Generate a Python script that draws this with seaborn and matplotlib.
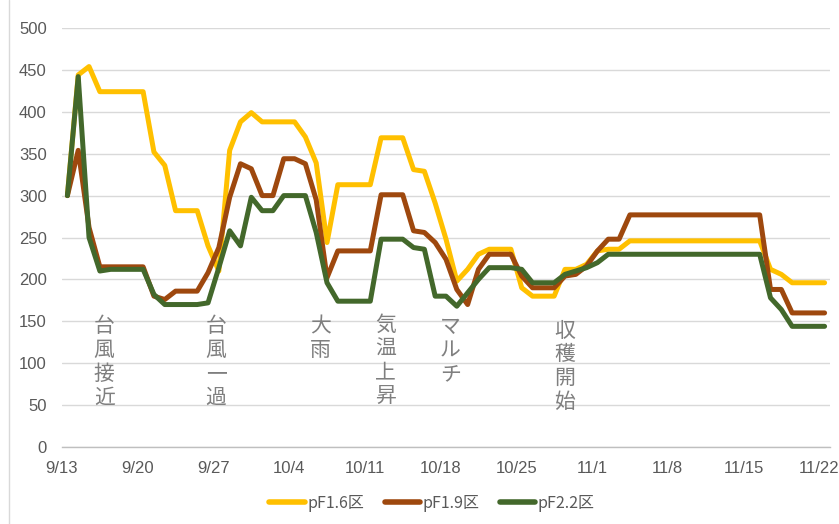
import matplotlib
matplotlib.use("Agg")
import matplotlib.pyplot as plt
import seaborn as sns
import pandas as pd
import numpy as np
from matplotlib.lines import Line2D

# ---- data ----
tick_labels = ["9/13", "9/20", "9/27", "10/4", "10/11", "10/18", "10/25", "11/1", "11/8", "11/15", "11/22"]
series_names = ["pF1.6区", "pF1.9区", "pF2.2区"]
colors = ["#FFC000", "#9E480E", "#43682B"]

pf16 = [300, 444, 454, 424, 424, 424, 424, 424, 352, 336,
        282, 282, 282, 240, 210, 354, 388, 399, 388, 388,
        388, 388, 370, 339, 244, 313, 313, 313, 313, 369,
        369, 369, 331, 329, 291, 248, 198, 212, 230, 236,
        236, 236, 190, 180, 180, 180, 212, 212, 218, 234,
        236, 236, 246, 246, 246, 246, 246, 246, 246, 246,
        246, 246, 246, 246, 246, 212, 206, 196, 196, 196,
        196]
pf19 = [300, 354, 262, 215, 215, 215, 215, 215, 180, 176,
        186, 186, 186, 208, 238, 298, 338, 332, 300, 300,
        344, 344, 338, 295, 202, 234, 234, 234, 234, 301,
        301, 301, 258, 256, 244, 224, 188, 170, 212, 230,
        230, 230, 204, 190, 190, 190, 204, 206, 216, 234,
        248, 248, 277, 277, 277, 277, 277, 277, 277, 277,
        277, 277, 277, 277, 277, 188, 188, 160, 160, 160,
        160]
pf22 = [300, 442, 250, 210, 212, 212, 212, 212, 182, 170,
        170, 170, 170, 172, 214, 258, 240, 298, 282, 282,
        300, 300, 300, 256, 196, 174, 174, 174, 174, 248,
        248, 248, 238, 236, 180, 180, 168, 184, 200, 214,
        214, 214, 212, 196, 196, 196, 206, 210, 214, 220,
        230, 230, 230, 230, 230, 230, 230, 230, 230, 230,
        230, 230, 230, 230, 230, 178, 164, 144, 144, 144,
        144]

notes = ["台風接近", "台風一過", "大雨", "気温上昇", "マルチ", "収穫開始"]
note_days = [3.4, 13.75, 23.4, 29.4, 35.4, 46.0]
note_tops = [157, 157, 157, 159, 156, 152]

days = np.arange(len(pf16))
df = pd.DataFrame({
    "day": np.concatenate([days, days, days]),
    "value": pf16 + pf19 + pf22,
    "series": [series_names[0]] * len(pf16) + [series_names[1]] * len(pf19) + [series_names[2]] * len(pf22),
})

sns.set_theme(style="white")
plt.rcParams["font.family"] = ["Liberation Sans Narrow", "Liberation Sans", "Noto Sans CJK JP", "DejaVu Sans"]

fig = plt.figure(figsize=(8.39, 5.24), dpi=100)
ax = fig.add_axes([62 / 839, 1 - 447 / 524, (830 - 62) / 839, (447 - 28) / 524])

sns.lineplot(data=df, x="day", y="value", hue="series", hue_order=series_names,
             palette=dict(zip(series_names, colors)), linewidth=3.6, ax=ax,
             legend=False, estimator=None)
for ln in ax.lines:
    ln.set_solid_joinstyle("round")

ax.set_xlim(-0.5, 70.5)
ax.set_ylim(0, 500)
ax.set_yticks(np.arange(0, 501, 50))
ax.set_xticks(np.arange(-0.5, 70.6, 7))
ax.set_xticklabels(tick_labels)
ax.set_xlabel("")
ax.set_ylabel("")
ax.yaxis.grid(True, color="#D9D9D9", linewidth=1)
ax.xaxis.grid(False)
for s in ["top", "right", "left"]:
    ax.spines[s].set_visible(False)
ax.spines["bottom"].set_color("#BFBFBF")
ax.spines["bottom"].set_linewidth(1)
ax.set_axisbelow(True)
ax.tick_params(axis="x", direction="out", length=5, width=1, color="#BFBFBF",
               labelsize=12, labelcolor="#595959", pad=5)
ax.tick_params(axis="y", length=0, labelsize=12, labelcolor="#595959", pad=11)

for txt, d, top in zip(notes, note_days, note_tops):
    ax.text(d, top, "\n".join(txt), ha="center", va="top", fontsize=15,
            color="#7F7F7F", linespacing=1.1,
            family=["Noto Sans CJK JP", "DejaVu Sans"])

handles = [Line2D([0], [0], color=c, linewidth=4) for c in colors]
fig.legend(handles, series_names, loc="center", bbox_to_anchor=(432 / 839, 1 - 503 / 524),
           ncol=3, frameon=False, handlelength=2.2, handletextpad=0.15,
           columnspacing=1.3, labelcolor="#595959",
           prop={"family": ["Liberation Sans Narrow", "Noto Sans CJK JP"], "size": 11.5})

fig.add_artist(Line2D([9 / 839, 9 / 839], [0, 1], transform=fig.transFigure,
                      color="#D9D9D9", linewidth=1))

fig.savefig("out.png", dpi=100)
